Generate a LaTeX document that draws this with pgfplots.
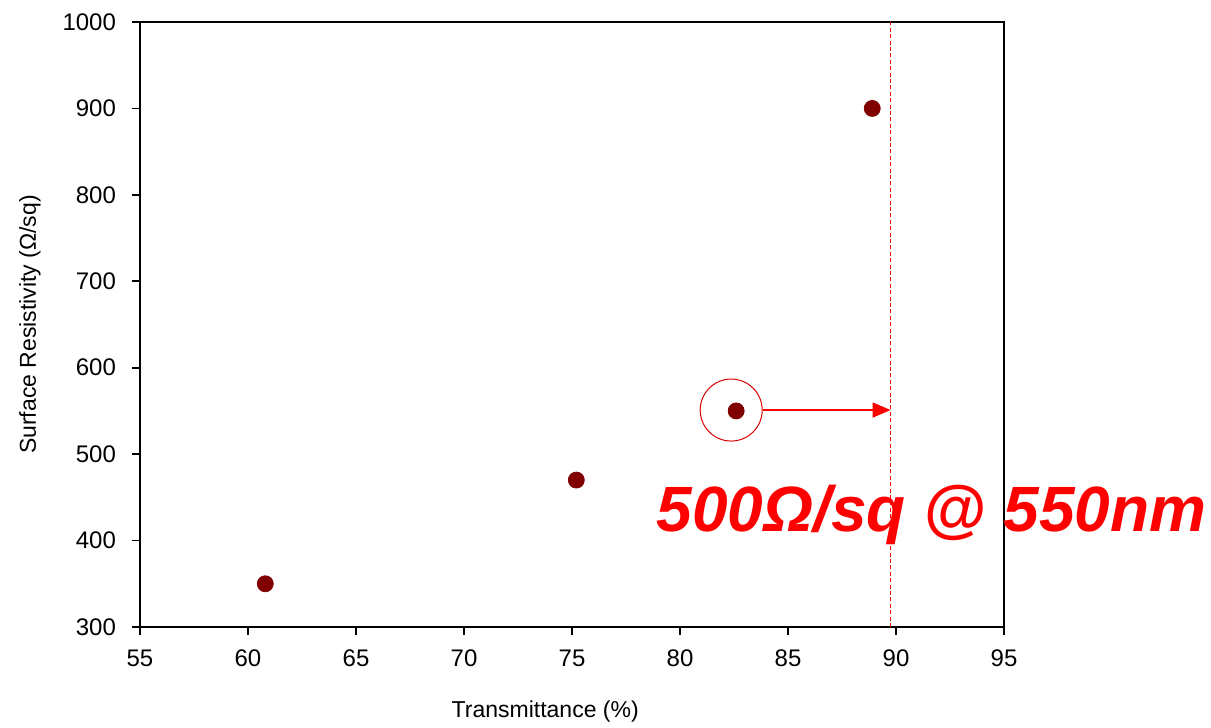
\documentclass[border=0pt]{standalone}
\usepackage{pgfplots}
\pgfplotsset{compat=1.18}
\usepackage{fontspec}
\setmainfont{Liberation Sans}
\usetikzlibrary{arrows.meta}
\definecolor{ptcol}{RGB}{128,0,0}
\begin{document}
\begin{tikzpicture}
\begin{axis}[
  width=432pt, height=302.5pt, scale only axis,
  xmin=55, xmax=95, ymin=300, ymax=1000,
  xtick={55,60,...,95}, ytick={300,400,...,1000},
  tick align=outside, tick pos=left, major tick length=4pt,
  axis line style={line width=0.8pt}, tick style={line width=0.8pt, black},
  ticklabel style={font=\fontsize{12}{14}\selectfont},
  xticklabel style={yshift=-4pt},
  yticklabel style={xshift=-4.5pt},
  /pgf/number format/assume math mode=true,
  /pgf/number format/1000 sep={},
  xlabel={Transmittance (\%)},
  ylabel={Surface Resistivity (Ω/sq)},
  label style={font=\fontsize{11.5}{13}\selectfont},
  xlabel style={at={(axis description cs:0.469,-0.1405)}, anchor=center},
  ylabel style={at={(axis description cs:-0.1273,0.5)}, anchor=center},
  clip=false,
]
\addplot[red, line width=0.6pt, dash pattern=on 2pt off 1.2pt] coordinates {(89.75,300) (89.75,1000)};
\addplot[only marks, mark=*, mark size=4pt, color=ptcol] coordinates {
  (60.8,350) (75.2,470) (82.6,550) (88.9,900)
};
\draw[red!85!black, line width=0.5pt] (axis cs:82.37,551) circle[radius=15.5pt];
\draw[red, line width=0.7pt, -{Triangle[length=9pt,width=7.5pt]}] (axis cs:83.84,551) -- (axis cs:89.75,551);
\node[anchor=base west, text=red, inner sep=0pt, font=\fontsize{32}{37}\selectfont\bfseries\itshape] at (axis cs:78.9,410) {500Ω/sq @ 550nm};
\end{axis}
\path (current axis.south west) ++(-70pt,-50.5pt) coordinate (bl);
\path (current axis.north east) ++(103.5pt,11pt) coordinate (tr);
\pgfresetboundingbox
\path[use as bounding box] (bl) rectangle (tr);
\end{tikzpicture}
\end{document}
